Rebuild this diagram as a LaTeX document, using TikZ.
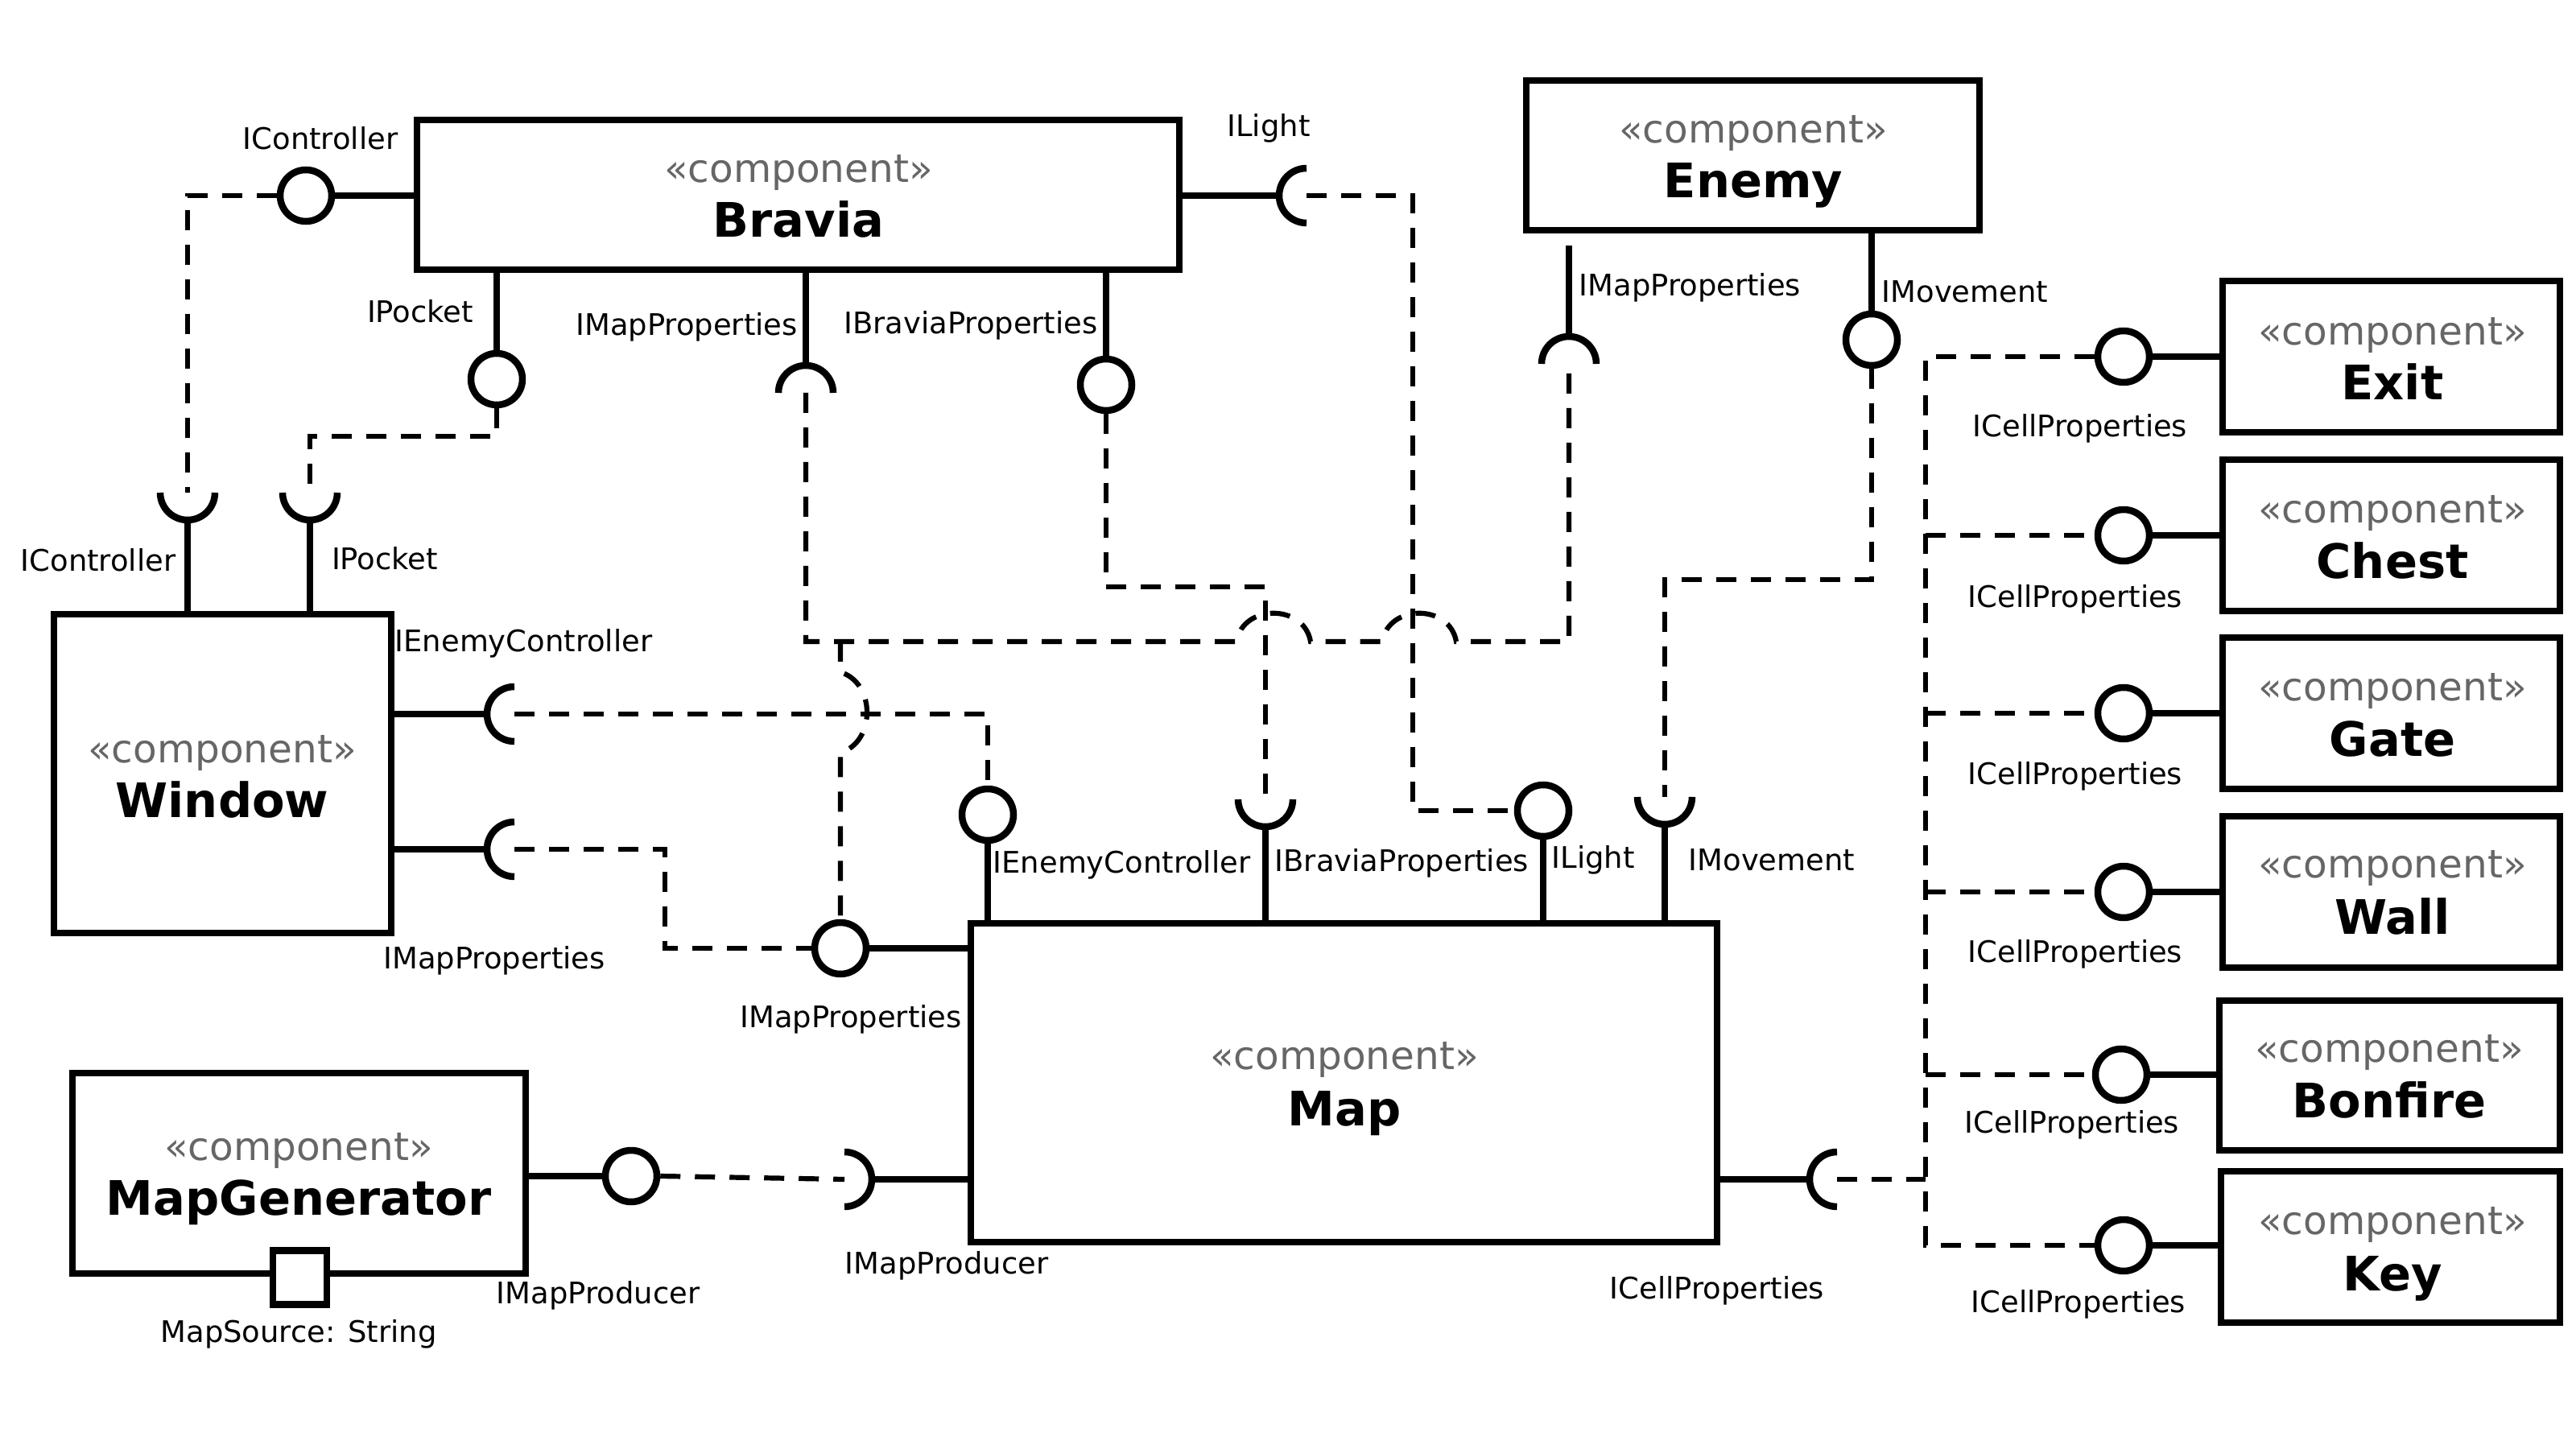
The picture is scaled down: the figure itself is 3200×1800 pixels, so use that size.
\documentclass[tikz,border=0pt]{standalone}
\usepackage{fontspec}
\setmainfont{DejaVu Sans}
\usetikzlibrary{calc}
\definecolor{stereogray}{RGB}{102,102,102}
\tikzset{
  comp/.style={draw, line width=0.85mm, fill=white, inner sep=0, line join=miter},
  ball/.style={circle, draw, line width=0.85mm, fill=white, minimum size=6.4mm, inner sep=0},
  stick/.style={line width=0.85mm},
  sockarc/.style={line width=0.85mm},
  dep/.style={line width=0.62mm, dash pattern=on 2.5mm off 1.8mm},
  lbl/.style={font=\fontsize{10.5}{12}\selectfont, inner sep=0},
  stereo/.style={font=\fontsize{13.8}{16}\selectfont, text=stereogray, inner sep=0, anchor=base},
  cname/.style={font=\bfseries\fontsize{16.8}{20}\selectfont, inner sep=0, anchor=base},
}
\begin{document}
\begin{tikzpicture}[x=0.1mm, y=-0.1mm]
\useasboundingbox (0,0) rectangle (3200,1800);

% ---------- component boxes ----------
\node[comp, minimum width=94.7mm, minimum height=18.6mm] (bravia) at (991.5,242) {};
\node[comp, minimum width=56.3mm, minimum height=18.6mm] (enemy) at (2177.5,193) {};
\node[comp, minimum width=41.9mm, minimum height=39.6mm] (window) at (276.5,961) {};
\node[comp, minimum width=92.7mm, minimum height=39.6mm] (map) at (1669.5,1345) {};
\node[comp, minimum width=56.3mm, minimum height=24.9mm] (mapgen) at (371.5,1457.5) {};
\node[comp, minimum width=41.9mm, minimum height=18.8mm] (exit) at (2970.5,443) {};
\node[comp, minimum width=41.9mm, minimum height=18.8mm] (chest) at (2970.5,665) {};
\node[comp, minimum width=41.9mm, minimum height=18.8mm] (gate) at (2970.5,886) {};
\node[comp, minimum width=41.9mm, minimum height=18.8mm] (wall) at (2970.5,1108) {};
\node[comp, minimum width=42.3mm, minimum height=18.6mm] (bonfire) at (2968.5,1336) {};
\node[comp, minimum width=42.1mm, minimum height=18.8mm] (key) at (2969.5,1549) {};

% ---------- box texts ----------
\node[stereo] (bravia-st) at (992,227) {«component»};
\node[cname] (bravia-nm) at (992,295) {Bravia};
\node[stereo] (enemy-st) at (2178,178) {«component»};
\node[cname] (enemy-nm) at (2178,246) {Enemy};
\node[stereo] (window-st) at (276,947) {«component»};
\node[cname] (window-nm) at (276,1015) {Window};
\node[stereo] (map-st) at (1670,1328) {«component»};
\node[cname] (map-nm) at (1670,1398) {Map};
\node[stereo] (mapgen-st) at (371,1441) {«component»};
\node[cname] (mapgen-nm) at (371,1509) {MapGenerator};
\node[stereo] (exit-st) at (2972,429) {«component»};
\node[cname] (exit-nm) at (2972,497) {Exit};
\node[stereo] (chest-st) at (2972,650) {«component»};
\node[cname] (chest-nm) at (2972,719) {Chest};
\node[stereo] (gate-st) at (2972,870) {«component»};
\node[cname] (gate-nm) at (2972,939) {Gate};
\node[stereo] (wall-st) at (2972,1090) {«component»};
\node[cname] (wall-nm) at (2972,1160) {Wall};
\node[stereo] (bonfire-st) at (2968,1319) {«component»};
\node[cname] (bonfire-nm) at (2968,1388) {Bonfire};
\node[stereo] (key-st) at (2972,1533) {«component»};
\node[cname] (key-nm) at (2972,1603) {Key};

% ---------- port ----------
\node[comp, minimum size=6.7mm] (port) at (372.5,1587) {};
\node[lbl] (port-lbl) at (371,1657) {MapSource: String};

% ---------- provided interfaces (balls) ----------
\node[ball] (b-bctl) at (380,243) {};
\node[ball] (b-bpoc) at (617,471) {};
\node[ball] (b-bbp) at (1374,478) {};
\node[ball] (b-emov) at (2325,422) {};
\node[ball] (b-mec) at (1227,1012) {};
\node[ball] (b-mlight) at (1917,1007) {};
\node[ball] (b-mmp) at (1044,1178) {};
\node[ball] (b-gprod) at (784,1461) {};
\node[ball] (b-exit) at (2638,443) {};
\node[ball] (b-chest) at (2638,665) {};
\node[ball] (b-gate) at (2638,886) {};
\node[ball] (b-wall) at (2638,1108) {};
\node[ball] (b-bonfire) at (2635,1335) {};
\node[ball] (b-key) at (2638,1547) {};

% ---------- required interfaces (socket centres) ----------
\coordinate (s-wctl) at (233,612);
\coordinate (s-wpoc) at (385,612);
\coordinate (s-bmp) at (1001,488);
\coordinate (s-blight) at (1623,243);
\coordinate (s-emp) at (1949,452);
\coordinate (s-wec) at (639,887);
\coordinate (s-wmp) at (639,1055);
\coordinate (s-mbp) at (1572,993);
\coordinate (s-mmov) at (2068,990);
\coordinate (s-mprod) at (1049,1465);
\coordinate (s-mcell) at (2282,1465);

% cups opening upward
\foreach \s in {s-wctl,s-wpoc,s-mbp,s-mmov}
  \draw[sockarc] ($(\s)+(-34,0)$) arc[start angle=180, end angle=360, radius=3.4mm];
% caps opening downward
\foreach \s in {s-bmp,s-emp}
  \draw[sockarc] ($(\s)+(-34,0)$) arc[start angle=180, end angle=0, radius=3.4mm];
% opening to the right
\foreach \s in {s-blight,s-wec,s-wmp,s-mcell}
  \draw[sockarc] ($(\s)+(0,-34)$) arc[start angle=90, end angle=270, radius=3.4mm];
% opening to the left
\draw[sockarc] ($(s-mprod)+(0,-34)$) arc[start angle=90, end angle=-90, radius=3.4mm];

% ---------- sticks ----------
\draw[stick] (bravia.west |- b-bctl) -- (b-bctl);
\draw[stick] (bravia.south -| b-bpoc) -- (b-bpoc);
\draw[stick] (bravia.south -| s-bmp) -- ($(s-bmp)+(0,-34)$);
\draw[stick] (bravia.south -| b-bbp) -- (b-bbp);
\draw[stick] (bravia.east |- s-blight) -- ($(s-blight)+(-34,0)$);
\draw[stick] ($(enemy.south -| s-emp)+(0,15)$) -- ($(s-emp)+(0,-34)$);
\draw[stick] (enemy.south -| b-emov) -- (b-emov);
\draw[stick] (window.north -| s-wctl) -- ($(s-wctl)+(0,34)$);
\draw[stick] (window.north -| s-wpoc) -- ($(s-wpoc)+(0,34)$);
\draw[stick] (window.east |- s-wec) -- ($(s-wec)+(-34,0)$);
\draw[stick] (window.east |- s-wmp) -- ($(s-wmp)+(-34,0)$);
\draw[stick] (map.north -| b-mec) -- (b-mec);
\draw[stick] (map.north -| s-mbp) -- ($(s-mbp)+(0,34)$);
\draw[stick] (map.north -| b-mlight) -- (b-mlight);
\draw[stick] (map.north -| s-mmov) -- ($(s-mmov)+(0,34)$);
\draw[stick] (map.west |- b-mmp) -- (b-mmp);
\draw[stick] (map.west |- s-mprod) -- ($(s-mprod)+(34,0)$);
\draw[stick] (map.east |- s-mcell) -- ($(s-mcell)+(-34,0)$);
\draw[stick] (mapgen.east |- b-gprod) -- (b-gprod);
\draw[stick] (exit.west |- b-exit) -- (b-exit);
\draw[stick] (chest.west |- b-chest) -- (b-chest);
\draw[stick] (gate.west |- b-gate) -- (b-gate);
\draw[stick] (wall.west |- b-wall) -- (b-wall);
\draw[stick] (bonfire.west |- b-bonfire) -- (b-bonfire);
\draw[stick] (key.west |- b-key) -- (b-key);

% ---------- dependencies (dashed) ----------
\draw[dep] (b-bctl.west) -| (s-wctl);
\draw[dep] (b-bpoc.south) -- (617,542) -| (s-wpoc);
\coordinate (j1) at (1001,797);
\coordinate (j2) at (1949,797);
\draw[dep] (s-bmp) -- (j1) -- (1536,797) .. controls (1544,750) and (1620,750) .. (1628,797)
  -- (1717,797) .. controls (1725,750) and (1801,750) .. (1809,797) -- (j2) -- (s-emp);
\coordinate (j3) at (1044,797);
\draw[dep] (j3) -- (1044,835) .. controls (1088,848) and (1088,922) .. (1044,935) -- (b-mmp.north);
\draw[dep] (s-wmp) -- (826,1055) |- (b-mmp.west);
\draw[dep] (s-wec) -| (b-mec.north);
\draw[dep] (b-bbp.south) -- (1374,729) -| (s-mbp);
\draw[dep] (s-blight) -- (1755,243) |- (b-mlight.west);
\draw[dep] (b-emov.south) -- (2325,720) -| (s-mmov);
\draw[dep] (b-gprod.east) -- (s-mprod);
\coordinate (bus-top) at (2392,443);
\coordinate (bus-bot) at (2392,1547);
\draw[dep] (b-exit.west) -- (bus-top) -- (bus-bot) -- (b-key.west);
\draw[dep] (bus-top |- b-chest) -- (b-chest.west);
\draw[dep] (bus-top |- b-gate) -- (b-gate.west);
\draw[dep] (bus-top |- b-wall) -- (b-wall.west);
\draw[dep] (bus-top |- b-bonfire) -- (b-bonfire.west);
\draw[dep] (s-mcell) -- (bus-top |- s-mcell);

% ---------- labels ----------
\node[lbl] (l1) at (398,172) {IController};
\node[lbl] (l2) at (522,387) {IPocket};
\node[lbl] (l3) at (853,406) {IMapProperties};
\node[lbl] (l4) at (1206,404) {IBraviaProperties};
\node[lbl] (l5) at (1576,159) {ILight};
\node[lbl, anchor=west] (l6) at (1961,357) {IMapProperties};
\node[lbl, anchor=west] (l7) at (2337,362) {IMovement};
\node[lbl] (l8) at (122,696) {IController};
\node[lbl] (l9) at (478,694) {IPocket};
\node[lbl, anchor=west] (l10) at (490,799) {IEnemyController};
\node[lbl] (l11) at (614,1193) {IMapProperties};
\node[lbl, anchor=west] (l12) at (1233,1074) {IEnemyController};
\node[lbl, anchor=west] (l13) at (1583,1072) {IBraviaProperties};
\node[lbl, anchor=west] (l14) at (1927,1068) {ILight};
\node[lbl, anchor=west] (l15) at (2097,1068) {IMovement};
\node[lbl] (l16) at (1057,1266) {IMapProperties};
\node[lbl] (l17) at (1176,1572) {IMapProducer};
\node[lbl] (l18) at (743,1609) {IMapProducer};
\node[lbl] (l19) at (2133,1603) {ICellProperties};
\node[lbl] (l20) at (2584,532) {ICellProperties};
\node[lbl] (l21) at (2578,744) {ICellProperties};
\node[lbl] (l22) at (2578,964) {ICellProperties};
\node[lbl] (l23) at (2578,1185) {ICellProperties};
\node[lbl] (l24) at (2574,1397) {ICellProperties};
\node[lbl] (l25) at (2582,1620) {ICellProperties};
\end{tikzpicture}
\end{document}
